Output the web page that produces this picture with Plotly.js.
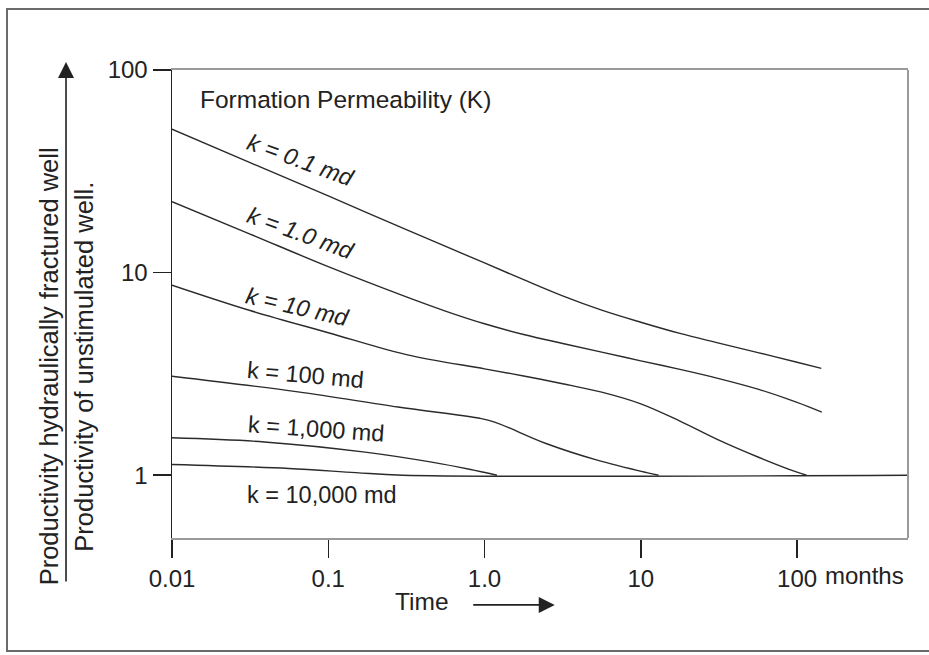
<!DOCTYPE html>
<html>
<head>
<meta charset="utf-8">
<script src="https://cdn.plot.ly/plotly-3.0.1.min.js"></script>
<style>
  html, body { margin: 0; padding: 0; background: #fff; overflow: hidden; }
  #chart { width: 929px; height: 655px; }
  #frame { position: absolute; left: 6px; top: 8px; width: 960px; height: 640px;
           border: 2px solid #6a6a6a; pointer-events: none; }
</style>
</head>
<body>
<div id="chart"></div>
<div id="frame"></div>
<script>
// Time (months) and productivity ratio for each formation permeability
const k01_t = [0.01, 0.0316, 0.1, 0.316, 1, 1.78, 3.16, 5.62, 10, 17.8, 31.6, 56.2, 100, 143];
const k01_y = [51, 34.9, 23.9, 16.3, 11.16, 9.23, 7.68, 6.53, 5.69, 5.01, 4.49, 4.03, 3.61, 3.37];

const k1_t = [0.01, 0.0316, 0.1, 0.316, 0.562, 1, 1.78, 3.16, 5.62, 10, 17.8, 31.6, 56.2, 100, 144];
const k1_y = [22.4, 15.5, 10.7, 7.59, 6.46, 5.59, 4.95, 4.47, 4.05, 3.67, 3.33, 3.0, 2.66, 2.29, 2.05];

const k10_t = [0.01, 0.0316, 0.1, 0.316, 1, 1.78, 3.16, 5.62, 10, 17.8, 31.6, 56.2, 100, 115];
const k10_y = [8.67, 6.5, 5.05, 3.94, 3.35, 3.09, 2.83, 2.57, 2.25, 1.85, 1.49, 1.23, 1.035, 1.0];

const k100_t = [0.01, 0.064, 0.28, 0.93, 1.16, 2.5, 5.2, 10.9, 13];
const k100_y = [3.08, 2.58, 2.17, 1.91, 1.83, 1.43, 1.19, 1.03, 1.0];

const k1000_t = [0.01, 0.039, 0.172, 0.459, 0.8, 1.2];
const k1000_y = [1.53, 1.46, 1.30, 1.16, 1.07, 1.0];

const k10000_t = [0.01, 0.056, 0.15, 0.3, 512];
const k10000_y = [1.13, 1.08, 1.03, 1.0, 1.0];

const xTickVals = [0.01, 0.1, 1, 10, 100];
const xTickText = ['0.01', '0.1', '1.0', '10', '100'];
const yTickVals = [1, 10, 100];
const yTickText = ['1', '10', '100'];

const curveLabels = ['k = 0.1 md', 'k = 1.0 md', 'k = 10 md', 'k = 100 md', 'k = 1,000 md', 'k = 10,000 md'];

const FONT = 'Liberation Sans, Arial, Helvetica, sans-serif';
const INK = '#222';
const lineStyle = { color: '#2b2b2b', width: 1.4, shape: 'spline', smoothing: 1.0 };

const series = [
  [k01_t, k01_y], [k1_t, k1_y], [k10_t, k10_y],
  [k100_t, k100_y], [k1000_t, k1000_y], [k10000_t, k10000_y]
];
const traces = series.map((s, i) => ({
  x: s[0], y: s[1], type: 'scatter', mode: 'lines',
  name: curveLabels[i], line: lineStyle, hoverinfo: 'skip'
}));

// label placement (paper coords)
const labelPos = [
  [0.174, 0.808, 20, true],
  [0.174, 0.652, 20, true],
  [0.171, 0.494, 13, true],
  [0.182, 0.348, 5, false],
  [0.196, 0.233, 4, false],
  [0.204, 0.092, 0, false]
];
const annotations = curveLabels.map((t, i) => ({
  text: labelPos[i][3] ? '<i>' + t + '</i>' : t,
  xref: 'paper', yref: 'paper', x: labelPos[i][0], y: labelPos[i][1],
  xanchor: 'center', yanchor: 'middle', showarrow: false,
  textangle: labelPos[i][2], font: { family: FONT, size: 23.5, color: INK }
}));

annotations.push(
  { text: 'Formation Permeability (K)', xref: 'paper', yref: 'paper', x: 0.035, y: 0.936,
    xanchor: 'left', yanchor: 'middle', showarrow: false, font: { family: FONT, size: 24.5, color: INK } },
  { text: 'Productivity hydraulically fractured well', xref: 'paper', yref: 'paper', x: -0.167, y: 0.367,
    xanchor: 'center', yanchor: 'middle', showarrow: false, textangle: -90,
    font: { family: FONT, size: 25.5, color: INK } },
  { text: 'Productivity of unstimulated well.', xref: 'paper', yref: 'paper', x: -0.119, y: 0.367,
    xanchor: 'center', yanchor: 'middle', showarrow: false, textangle: -90,
    font: { family: FONT, size: 25.5, color: INK } },
  { text: 'Time', xref: 'paper', yref: 'paper', x: 0.340, y: -0.136,
    xanchor: 'center', yanchor: 'middle', showarrow: false, font: { family: FONT, size: 24.5, color: INK } },
  { text: 'months', xref: 'paper', yref: 'paper', x: 0.884, y: -0.08,
    xanchor: 'left', yanchor: 'middle', showarrow: false, font: { family: FONT, size: 24, color: INK } },
  // vertical arrow (fraction bar + arrow)
  { text: '', xref: 'paper', yref: 'paper', x: -0.144, y: 1.017, ax: 0, ay: 521,
    showarrow: true, arrowhead: 2, arrowsize: 2, arrowwidth: 1.6, arrowcolor: INK },
  // Time arrow
  { text: '', xref: 'paper', yref: 'paper', x: 0.520, y: -0.143, ax: -83, ay: 0,
    showarrow: true, arrowhead: 2, arrowsize: 2, arrowwidth: 1.6, arrowcolor: INK }
);

const layout = {
  width: 929, height: 655,
  margin: { l: 172, r: 21, t: 70, b: 117 },
  paper_bgcolor: '#fff', plot_bgcolor: '#fff',
  showlegend: false,
  font: { family: FONT, size: 24, color: INK },
  xaxis: {
    type: 'log', range: [-2, 2.71],
    tickmode: 'array', tickvals: xTickVals, ticktext: xTickText,
    ticks: 'outside', ticklen: 18, tickwidth: 1.5, tickcolor: INK,
    showgrid: false, zeroline: false,
    showline: true, linecolor: '#9a9a9a', linewidth: 2, mirror: true,
    tickfont: { family: FONT, size: 24, color: INK }
  },
  yaxis: {
    type: 'log', range: [Math.log10(0.49), 2],
    tickmode: 'array', tickvals: yTickVals, ticktext: yTickText,
    ticks: 'outside', ticklen: 18, tickwidth: 1.5, tickcolor: INK,
    showgrid: false, zeroline: false,
    showline: true, linecolor: INK, linewidth: 1.5,
    tickfont: { family: FONT, size: 24, color: INK }
  },
  shapes: [
    { type: 'line', xref: 'paper', yref: 'paper', x0: 1, x1: 1, y0: 0, y1: 1,
      line: { color: '#9a9a9a', width: 2 } }
  ],
  annotations: annotations
};

Plotly.newPlot('chart', traces, layout, { staticPlot: true, displayModeBar: false });
</script>
</body>
</html>
